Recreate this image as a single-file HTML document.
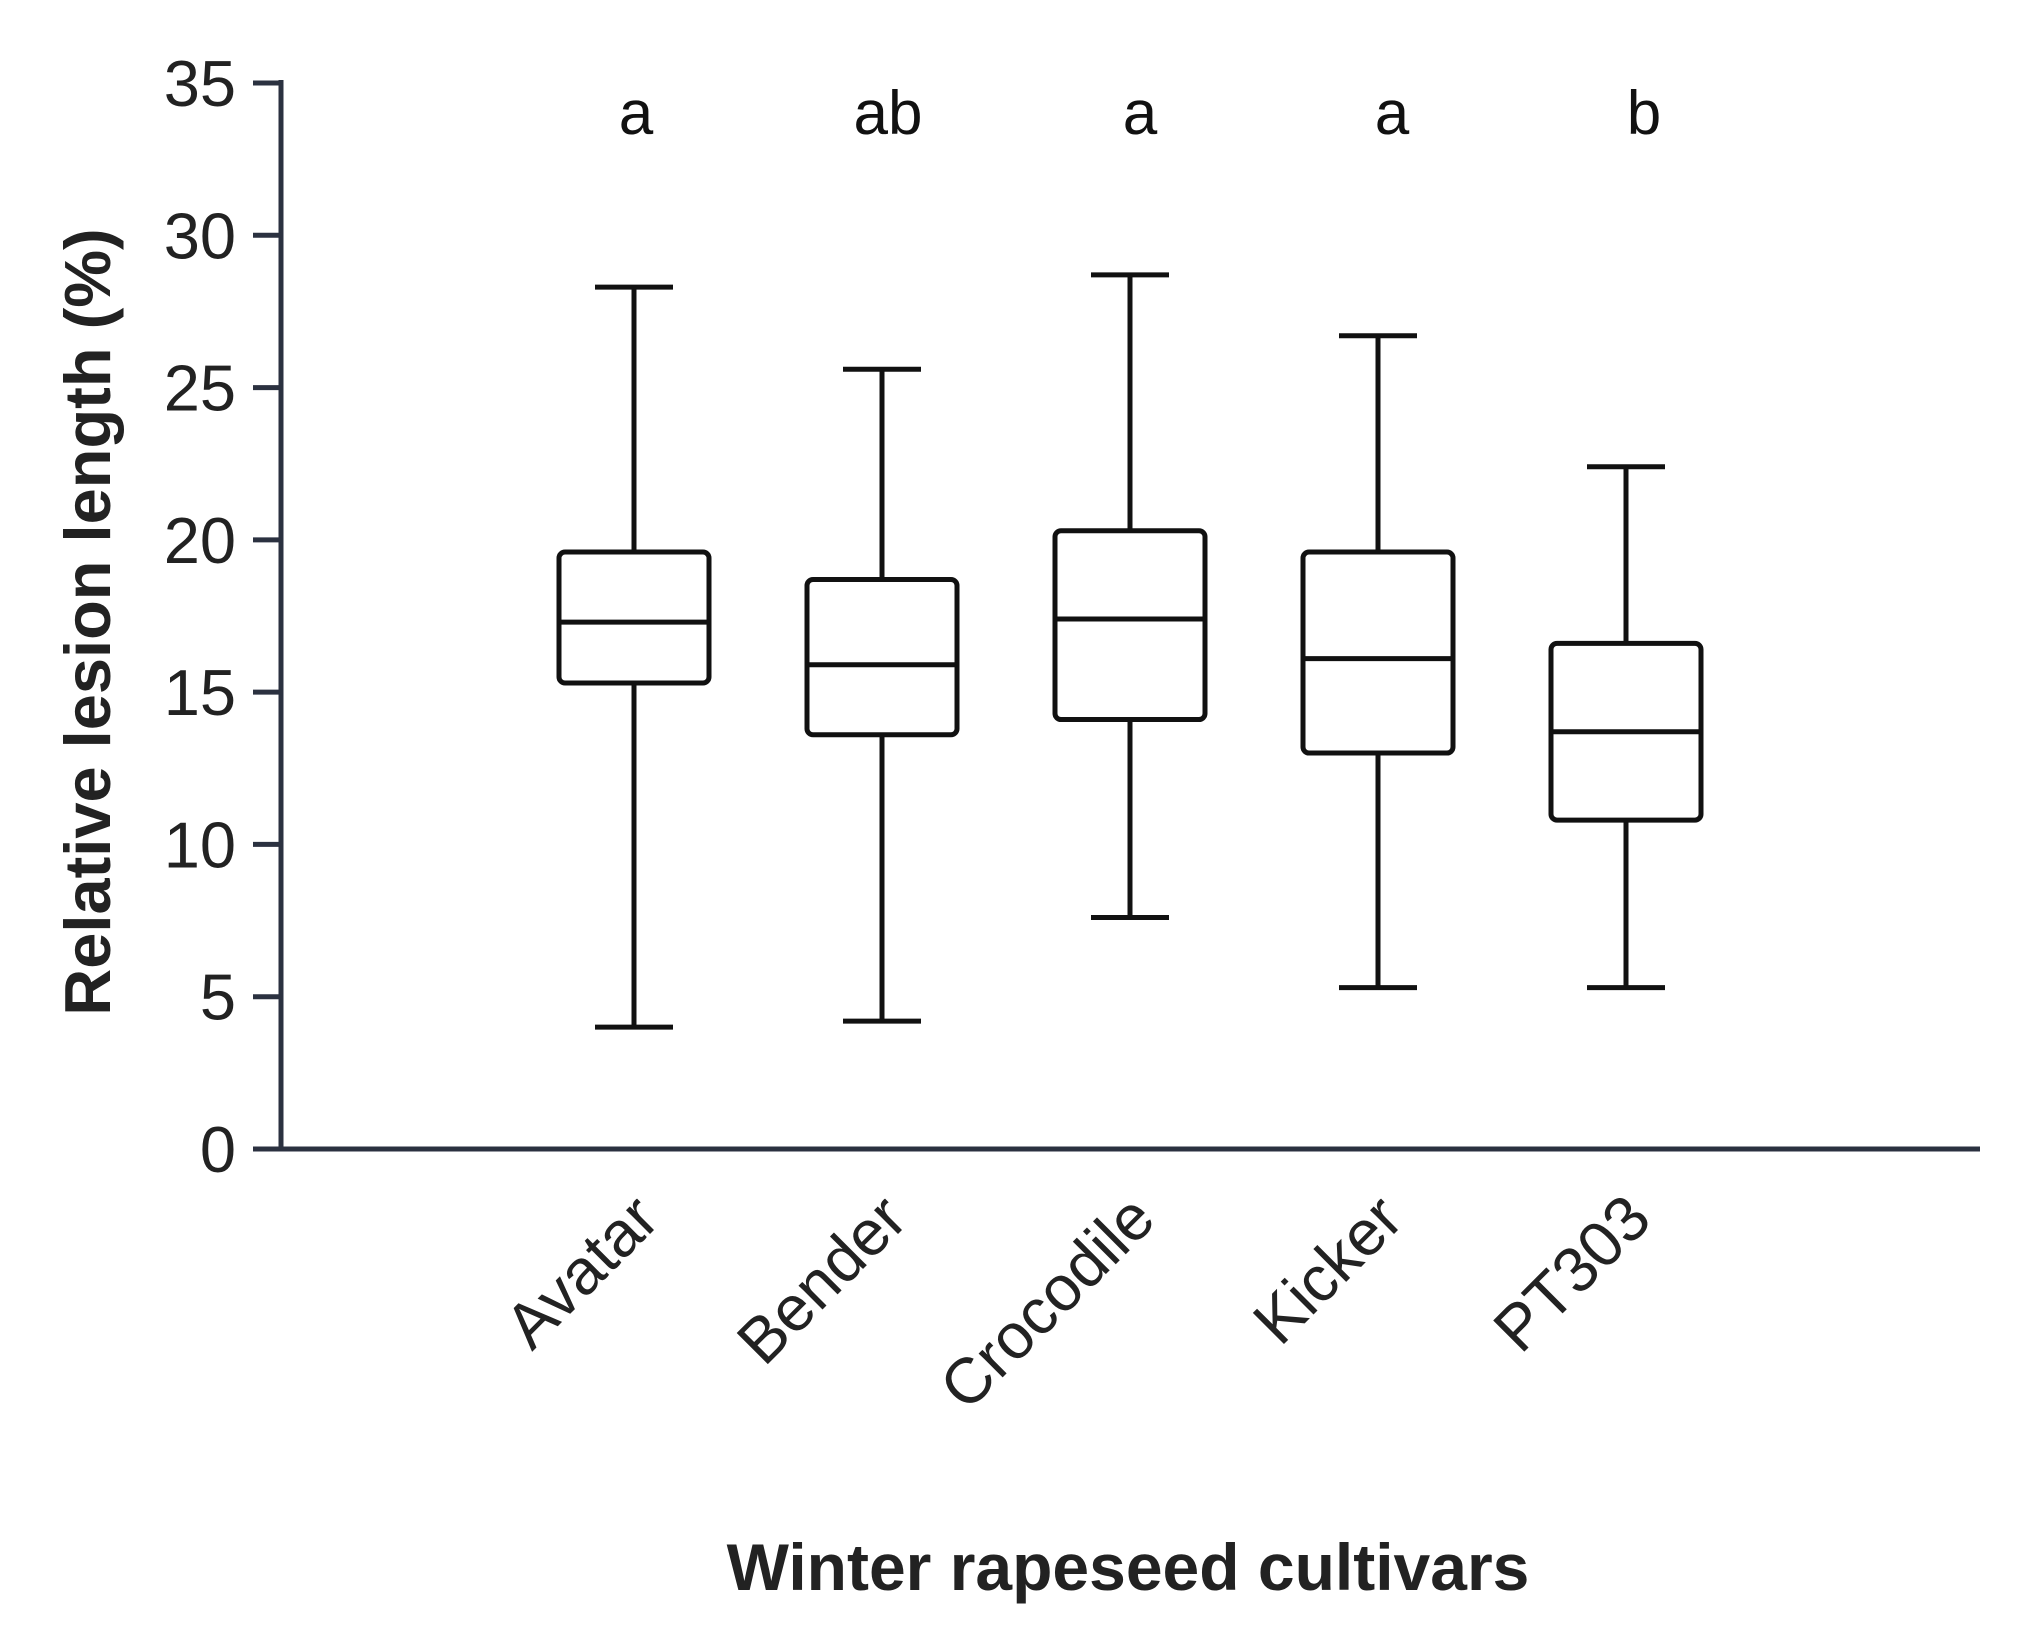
<!DOCTYPE html>
<html><head><meta charset="utf-8">
<style>
html,body{margin:0;padding:0;background:#fff;}
svg{display:block;font-family:"Liberation Sans",sans-serif;}
</style></head>
<body>
<svg id="chart" width="2038" height="1635" viewBox="0 0 2038 1635" xmlns="http://www.w3.org/2000/svg">
<g id="axes"></g>
<g id="boxes"></g>
<text x="1128" y="1590" text-anchor="middle" font-size="66" font-weight="bold" fill="#222">Winter rapeseed cultivars</text>
<text transform="translate(110,622) rotate(-90)" text-anchor="middle" font-size="65" font-weight="bold" fill="#222">Relative lesion length (%)</text>
</svg>
<script>
const categories = ["Avatar","Bender","Crocodile","Kicker","PT303"];
const whiskerMin = [4.0, 4.2, 7.6, 5.3, 5.3];
const q1 = [15.3, 13.6, 14.1, 13.0, 10.8];
const median = [17.3, 15.9, 17.4, 16.1, 13.7];
const q3 = [19.6, 18.7, 20.3, 19.6, 16.6];
const whiskerMax = [28.3, 25.6, 28.7, 26.7, 22.4];
const letters = ["a","ab","a","a","b"];
const yTicks = [0,5,10,15,20,25,30,35];

const NS="http://www.w3.org/2000/svg";
const y0=1149, y35=83;
function yScale(v){return y0-(y0-y35)*v/35;}
const xStart=634, xStep=248;
function xScale(i){return xStart+i*xStep;}
function mk(parent,tag,attrs,text){const e=document.createElementNS(NS,tag);for(const k in attrs)e.setAttribute(k,attrs[k]);if(text!==undefined)e.textContent=text;parent.appendChild(e);return e;}

const axes=document.getElementById('axes');
const axc="#2b3140";
let yl=mk(axes,'line',{x1:281,y1:80,x2:281,y2:1151,stroke:axc,'stroke-width':5});


let xl=mk(axes,'line',{x1:279,y1:1149,x2:1980,y2:1149,stroke:axc,'stroke-width':5});


yTicks.forEach(t=>{
  const y=yScale(t);
  let tk=mk(axes,'line',{x1:253,y1:y,x2:281,y2:y,stroke:axc,'stroke-width':5});
  
  
  let tl=mk(axes,'text',{x:236,y:y+23,'text-anchor':'end','font-size':65,fill:'#222'},String(t));
  
  
});

const boxes=document.getElementById('boxes');
const bw=150, cap=78, sw=5;
categories.forEach((c,i)=>{
  const x=xScale(i);
  const g=mk(boxes,'g',{});
  
  
  const st={stroke:'#111','stroke-width':sw,fill:'none'};
  mk(g,'line',Object.assign({x1:x,y1:yScale(whiskerMax[i]),x2:x,y2:yScale(q3[i])},st));
  mk(g,'line',Object.assign({x1:x,y1:yScale(q1[i]),x2:x,y2:yScale(whiskerMin[i])},st));
  mk(g,'line',Object.assign({x1:x-cap/2,y1:yScale(whiskerMax[i]),x2:x+cap/2,y2:yScale(whiskerMax[i])},st));
  mk(g,'line',Object.assign({x1:x-cap/2,y1:yScale(whiskerMin[i]),x2:x+cap/2,y2:yScale(whiskerMin[i])},st));
  mk(g,'rect',Object.assign({x:x-bw/2,y:yScale(q3[i]),width:bw,height:yScale(q1[i])-yScale(q3[i]),rx:6,fill:'#fff'},{stroke:'#111','stroke-width':sw}));
  mk(g,'line',Object.assign({x1:x-bw/2,y1:yScale(median[i]),x2:x+bw/2,y2:yScale(median[i])},st));
  let lt=mk(boxes,'text',{x:x+2+i*4,y:134,'text-anchor':'middle','font-size':62,fill:'#111'},letters[i]);
  
  
  let xl2=mk(boxes,'text',{transform:`translate(${x+28},${1222}) rotate(-45)`,'text-anchor':'end','font-size':64,fill:'#222'},c);
  
  
});
</script>
</body></html>
